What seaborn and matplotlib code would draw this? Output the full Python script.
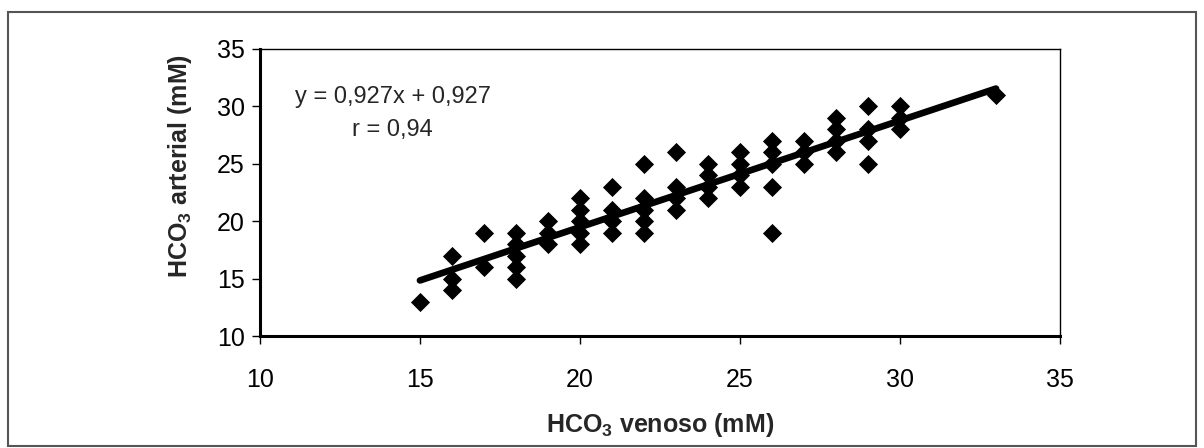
import matplotlib
matplotlib.use("Agg")
import matplotlib.pyplot as plt
import seaborn as sns
import pandas as pd
from matplotlib.patches import Rectangle

# venous HCO3 (x) and arterial HCO3 (y)
venoso = [15,
          16, 16, 16,
          17, 17,
          18, 18, 18, 18, 18,
          19, 19, 19,
          20, 20, 20, 20, 20,
          21, 21, 21, 21,
          22, 22, 22, 22, 22,
          23, 23, 23, 23,
          24, 24, 24, 24,
          25, 25, 25, 25,
          26, 26, 26, 26, 26,
          27, 27, 27,
          28, 28, 28, 28,
          29, 29, 29, 29,
          30, 30, 30,
          33]
arterial = [13,
            17, 15, 14,
            19, 16,
            19, 18, 17, 16, 15,
            20, 19, 18,
            22, 21, 20, 19, 18,
            23, 21, 20, 19,
            25, 22, 21, 20, 19,
            26, 23, 22, 21,
            25, 24, 23, 22,
            26, 25, 24, 23,
            27, 26, 25, 23, 19,
            27, 26, 25,
            29, 28, 27, 26,
            30, 28, 27, 25,
            30, 29, 28,
            31]

# regression shown on the chart
slope = 0.927
intercept = 0.927
eq_text = "y = 0,927x + 0,927"
r_text = "r = 0,94"

df = pd.DataFrame({"venoso": venoso, "arterial": arterial})
fit_x = [min(venoso), max(venoso)]
fit = pd.DataFrame({"x": fit_x, "y": [slope * v + intercept for v in fit_x]})

sns.set_theme(style="white")
plt.rcParams["font.family"] = ["Liberation Sans", "DejaVu Sans"]
plt.rcParams["mathtext.fontset"] = "custom"
plt.rcParams["mathtext.rm"] = "Liberation Sans"
plt.rcParams["mathtext.bf"] = "Liberation Sans:bold"

fig = plt.figure(figsize=(12.04, 4.48), dpi=100)
fig.patch.set_facecolor("white")
fig.patches.append(Rectangle((8 / 1204, 2 / 448), 1188 / 1204, 434 / 448,
                             transform=fig.transFigure, fill=False,
                             edgecolor="#555555", linewidth=1.5))

ax = fig.add_axes([0.2159, 0.25, 0.6645, 0.6417])

sns.lineplot(data=fit, x="x", y="y", ax=ax, color="black", linewidth=4.8,
             solid_capstyle="round", zorder=2)
sns.scatterplot(data=df, x="venoso", y="arterial", ax=ax, marker="D",
                color="black", s=95, linewidth=0, zorder=3)

ax.set_xlim(10, 35)
ax.set_ylim(10, 35)
ax.set_xticks([10, 15, 20, 25, 30, 35])
ax.set_yticks([10, 15, 20, 25, 30, 35])
ax.tick_params(axis="both", which="major", labelsize=18, colors="black",
               length=6, width=1, direction="out")
ax.tick_params(axis="x", pad=17, bottom=True)
ax.tick_params(axis="y", pad=5, left=True)

for side in ["left", "bottom"]:
    ax.spines[side].set_linewidth(2.2)
    ax.spines[side].set_color("black")
for side in ["top", "right"]:
    ax.spines[side].set_linewidth(1.0)
    ax.spines[side].set_color("black")

ax.set_xlabel(r"HCO$_\mathbf{3}$ venoso (mM)", fontsize=18, fontweight="bold",
              va="center", ha="center")
ax.set_ylabel(r"HCO$_\mathbf{3}$ arterial (mM)", fontsize=18, fontweight="bold",
              va="center", ha="center")
ax.xaxis.set_label_coords(0.5, -0.31)
ax.yaxis.set_label_coords(-0.1, 0.59)

ax.text(14.15, 30.8, eq_text, ha="center", va="center", fontsize=17)
ax.text(14.15, 27.9, r_text, ha="center", va="center", fontsize=17)

fig.savefig("out.png", dpi=100)
